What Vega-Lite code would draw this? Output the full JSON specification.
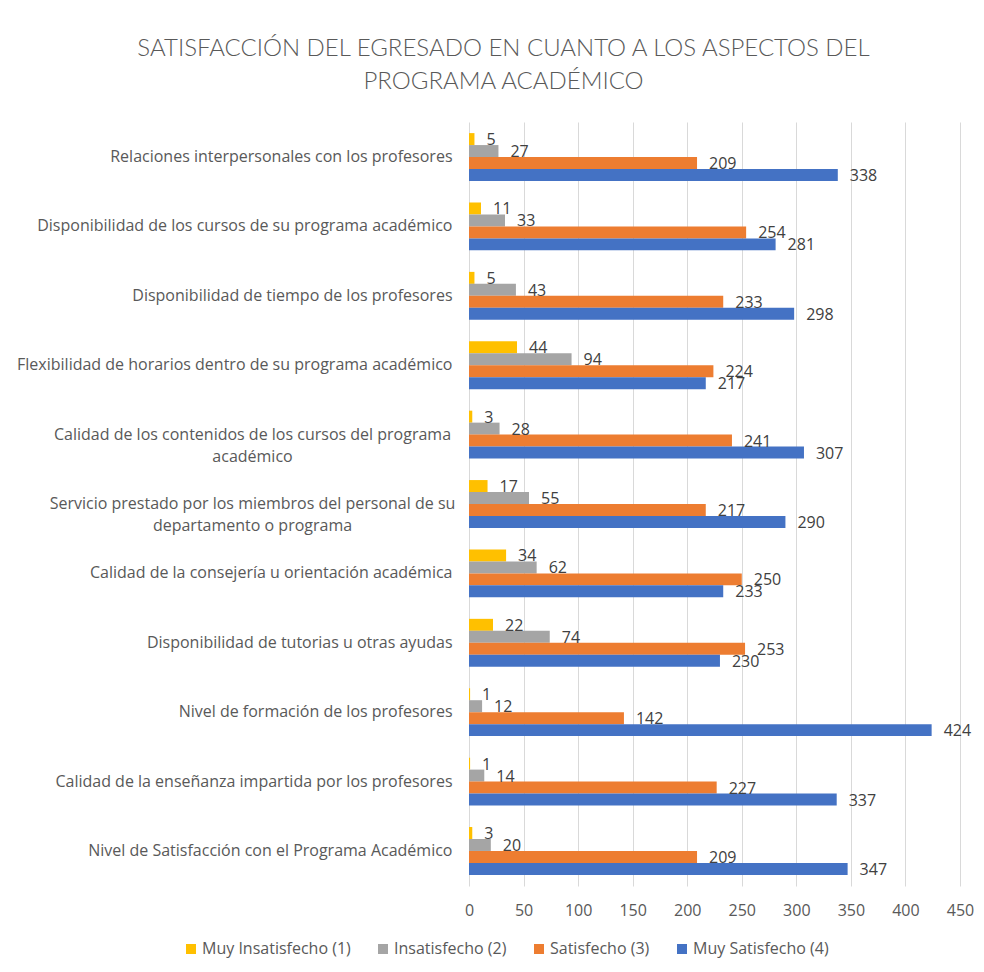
{
  "$schema": "https://vega.github.io/schema/vega-lite/v6.json",
  "autosize": {"type": "none"},
  "width": 491,
  "height": 764,
  "padding": {"left": 469, "top": 122, "right": 24, "bottom": 86},
  "background": "white",
  "title": {
    "text": ["SATISFACCIÓN DEL EGRESADO EN CUANTO A LOS ASPECTOS DEL", "PROGRAMA ACADÉMICO"],
    "font": "Lato",
    "fontWeight": 300,
    "fontSize": 24,
    "color": "#595959",
    "lineHeight": 33,
    "anchor": "middle",
    "frame": "group",
    "dx": -211,
    "offset": 28
  },
  "data": {"values": [
    {"aspecto": "Relaciones interpersonales con los profesores", "nivel": "Muy Insatisfecho (1)", "n": 5},
    {"aspecto": "Relaciones interpersonales con los profesores", "nivel": "Insatisfecho (2)", "n": 27},
    {"aspecto": "Relaciones interpersonales con los profesores", "nivel": "Satisfecho (3)", "n": 209},
    {"aspecto": "Relaciones interpersonales con los profesores", "nivel": "Muy Satisfecho (4)", "n": 338},
    {"aspecto": "Disponibilidad de los cursos de su programa académico", "nivel": "Muy Insatisfecho (1)", "n": 11},
    {"aspecto": "Disponibilidad de los cursos de su programa académico", "nivel": "Insatisfecho (2)", "n": 33},
    {"aspecto": "Disponibilidad de los cursos de su programa académico", "nivel": "Satisfecho (3)", "n": 254},
    {"aspecto": "Disponibilidad de los cursos de su programa académico", "nivel": "Muy Satisfecho (4)", "n": 281},
    {"aspecto": "Disponibilidad de tiempo de los profesores", "nivel": "Muy Insatisfecho (1)", "n": 5},
    {"aspecto": "Disponibilidad de tiempo de los profesores", "nivel": "Insatisfecho (2)", "n": 43},
    {"aspecto": "Disponibilidad de tiempo de los profesores", "nivel": "Satisfecho (3)", "n": 233},
    {"aspecto": "Disponibilidad de tiempo de los profesores", "nivel": "Muy Satisfecho (4)", "n": 298},
    {"aspecto": "Flexibilidad de horarios dentro de su programa académico", "nivel": "Muy Insatisfecho (1)", "n": 44},
    {"aspecto": "Flexibilidad de horarios dentro de su programa académico", "nivel": "Insatisfecho (2)", "n": 94},
    {"aspecto": "Flexibilidad de horarios dentro de su programa académico", "nivel": "Satisfecho (3)", "n": 224},
    {"aspecto": "Flexibilidad de horarios dentro de su programa académico", "nivel": "Muy Satisfecho (4)", "n": 217},
    {"aspecto": "Calidad de los contenidos de los cursos del programa académico", "nivel": "Muy Insatisfecho (1)", "n": 3},
    {"aspecto": "Calidad de los contenidos de los cursos del programa académico", "nivel": "Insatisfecho (2)", "n": 28},
    {"aspecto": "Calidad de los contenidos de los cursos del programa académico", "nivel": "Satisfecho (3)", "n": 241},
    {"aspecto": "Calidad de los contenidos de los cursos del programa académico", "nivel": "Muy Satisfecho (4)", "n": 307},
    {"aspecto": "Servicio prestado por los miembros del personal de su departamento o programa", "nivel": "Muy Insatisfecho (1)", "n": 17},
    {"aspecto": "Servicio prestado por los miembros del personal de su departamento o programa", "nivel": "Insatisfecho (2)", "n": 55},
    {"aspecto": "Servicio prestado por los miembros del personal de su departamento o programa", "nivel": "Satisfecho (3)", "n": 217},
    {"aspecto": "Servicio prestado por los miembros del personal de su departamento o programa", "nivel": "Muy Satisfecho (4)", "n": 290},
    {"aspecto": "Calidad de la consejería u orientación académica", "nivel": "Muy Insatisfecho (1)", "n": 34},
    {"aspecto": "Calidad de la consejería u orientación académica", "nivel": "Insatisfecho (2)", "n": 62},
    {"aspecto": "Calidad de la consejería u orientación académica", "nivel": "Satisfecho (3)", "n": 250},
    {"aspecto": "Calidad de la consejería u orientación académica", "nivel": "Muy Satisfecho (4)", "n": 233},
    {"aspecto": "Disponibilidad de tutorias u otras ayudas", "nivel": "Muy Insatisfecho (1)", "n": 22},
    {"aspecto": "Disponibilidad de tutorias u otras ayudas", "nivel": "Insatisfecho (2)", "n": 74},
    {"aspecto": "Disponibilidad de tutorias u otras ayudas", "nivel": "Satisfecho (3)", "n": 253},
    {"aspecto": "Disponibilidad de tutorias u otras ayudas", "nivel": "Muy Satisfecho (4)", "n": 230},
    {"aspecto": "Nivel de formación de los profesores", "nivel": "Muy Insatisfecho (1)", "n": 1},
    {"aspecto": "Nivel de formación de los profesores", "nivel": "Insatisfecho (2)", "n": 12},
    {"aspecto": "Nivel de formación de los profesores", "nivel": "Satisfecho (3)", "n": 142},
    {"aspecto": "Nivel de formación de los profesores", "nivel": "Muy Satisfecho (4)", "n": 424},
    {"aspecto": "Calidad de la enseñanza impartida por los profesores", "nivel": "Muy Insatisfecho (1)", "n": 1},
    {"aspecto": "Calidad de la enseñanza impartida por los profesores", "nivel": "Insatisfecho (2)", "n": 14},
    {"aspecto": "Calidad de la enseñanza impartida por los profesores", "nivel": "Satisfecho (3)", "n": 227},
    {"aspecto": "Calidad de la enseñanza impartida por los profesores", "nivel": "Muy Satisfecho (4)", "n": 337},
    {"aspecto": "Nivel de Satisfacción con el Programa Académico", "nivel": "Muy Insatisfecho (1)", "n": 3},
    {"aspecto": "Nivel de Satisfacción con el Programa Académico", "nivel": "Insatisfecho (2)", "n": 20},
    {"aspecto": "Nivel de Satisfacción con el Programa Académico", "nivel": "Satisfecho (3)", "n": 209},
    {"aspecto": "Nivel de Satisfacción con el Programa Académico", "nivel": "Muy Satisfecho (4)", "n": 347}
  ]},
  "encoding": {
    "y": {
      "field": "aspecto",
      "type": "nominal",
      "sort": [
        "Relaciones interpersonales con los profesores",
        "Disponibilidad de los cursos de su programa académico",
        "Disponibilidad de tiempo de los profesores",
        "Flexibilidad de horarios dentro de su programa académico",
        "Calidad de los contenidos de los cursos del programa académico",
        "Servicio prestado por los miembros del personal de su departamento o programa",
        "Calidad de la consejería u orientación académica",
        "Disponibilidad de tutorias u otras ayudas",
        "Nivel de formación de los profesores",
        "Calidad de la enseñanza impartida por los profesores",
        "Nivel de Satisfacción con el Programa Académico"
      ],
      "scale": {"paddingInner": 0.31, "paddingOuter": 0.16},
      "axis": {
        "title": null,
        "domain": false,
        "ticks": false,
        "labelAlign": {"condition": {"test": "indexof(datum.value, 'Calidad de los contenidos') == 0 || indexof(datum.value, 'Servicio prestado') == 0", "value": "center"}, "value": "right"},
        "labelPadding": {"condition": {"test": "indexof(datum.value, 'Calidad de los contenidos') == 0 || indexof(datum.value, 'Servicio prestado') == 0", "value": 217}, "value": 17},
        "labelLimit": 600,
        "labelFontSize": 16,
        "labelColor": "#595959",
        "labelFont": "Open Sans",
        "labelLineHeight": 22,
        "labelExpr": "datum.value == 'Calidad de los contenidos de los cursos del programa académico' ? ['Calidad de los contenidos de los cursos del programa', 'académico'] : datum.value == 'Servicio prestado por los miembros del personal de su departamento o programa' ? ['Servicio prestado por los miembros del personal de su', 'departamento o programa'] : datum.value"
      }
    },
    "yOffset": {
      "field": "nivel",
      "type": "nominal",
      "sort": ["Muy Insatisfecho (1)", "Insatisfecho (2)", "Satisfecho (3)", "Muy Satisfecho (4)"]
    },
    "x": {
      "field": "n",
      "type": "quantitative",
      "scale": {"domain": [0, 450], "nice": false},
      "axis": {
        "title": null,
        "values": [0, 50, 100, 150, 200, 250, 300, 350, 400, 450],
        "domain": false,
        "ticks": false,
        "grid": true,
        "gridColor": "#D9D9D9",
        "gridWidth": 1,
        "labelFlush": false,
        "labelPadding": 16,
        "labelFontSize": 16,
        "labelColor": "#595959",
        "labelFont": "Open Sans"
      }
    }
  },
  "layer": [
    {
      "mark": {"type": "bar"},
      "encoding": {
        "color": {
          "field": "nivel",
          "type": "nominal",
          "scale": {
            "domain": ["Muy Insatisfecho (1)", "Insatisfecho (2)", "Satisfecho (3)", "Muy Satisfecho (4)"],
            "range": ["#FFC000", "#A5A5A5", "#ED7D31", "#4472C4"]
          },
          "legend": {
            "title": null,
            "orient": "none",
            "direction": "horizontal",
            "legendX": -286,
            "legendY": 819,
            "symbolType": "square",
            "symbolSize": 100,
            "symbolStrokeWidth": 0,
            "labelFontSize": 16,
            "labelColor": "#595959",
            "labelFont": "Open Sans",
            "labelOffset": 3,
            "columnPadding": 24
          }
        }
      }
    },
    {
      "mark": {"type": "text", "align": "left", "baseline": "middle", "dx": 12, "dy": 1, "fontSize": 16, "font": "Open Sans", "color": "#404040"},
      "encoding": {
        "text": {"field": "n", "type": "quantitative"}
      }
    }
  ],
  "config": {
    "view": {"stroke": null}
  }
}
